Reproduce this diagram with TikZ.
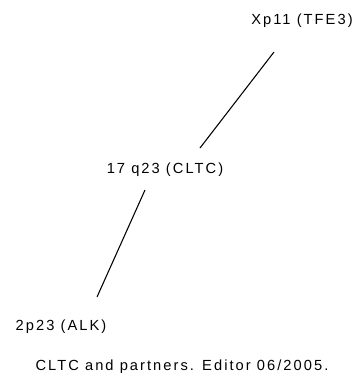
\documentclass[tikz,border=0pt]{standalone}
\usepackage{fontspec}
\setmainfont{Liberation Sans}[LetterSpace=14]
\usetikzlibrary{positioning}

\begin{document}
\begin{tikzpicture}[x=0.75pt,y=-0.75pt,
    locus/.style={inner sep=0pt,font=\fontsize{11pt}{13pt}\selectfont,text=black}]
        \useasboundingbox (0,0) rectangle (358,376);
        %Draw labels
        \node[locus] (tfe) at (302,21) {Xp11 (TFE3)};
        \node[locus] (cltc) at (165,170) {17 q23 (CLTC)};
        \node[locus] (alk) at (61,327) {2p23 (ALK)};
        \node[locus] (note) at (182,367) {CLTC and partners. Editor 06/2005.};
        \coordinate (t1) at (274,52);
        \coordinate (c1) at (200,148);
        \coordinate (c2) at (145,190);
        \coordinate (a1) at (97,297);
        %Draw lines
        \draw[line width=0.8pt] (t1) -- (c1);
        \draw[line width=0.8pt] (c2) -- (a1);
      \end{tikzpicture}
\end{document}
